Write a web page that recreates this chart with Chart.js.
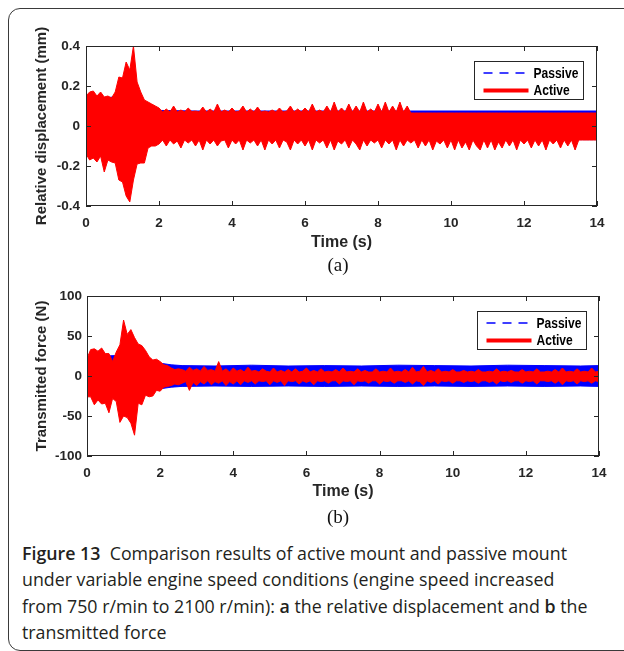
<!DOCTYPE html>
<html>
<head>
<meta charset="utf-8">
<script src="https://cdn.jsdelivr.net/npm/chart.js@4.4.1/dist/chart.umd.min.js"></script>
<style>
  html, body { margin: 0; padding: 0; background: #fff; width: 624px; height: 651px; overflow: hidden; }
  .frame { position: absolute; left: 8px; top: 8px; width: 700px; height: 643px; box-sizing: border-box;
           border: 1px solid #3a3a3a; border-radius: 12px; }
  canvas { position: absolute; left: 0; }
  #dispCanvas { top: 20px; }
  #forceCanvas { top: 280px; }
  .sub { position: absolute; left: 308px; width: 60px; text-align: center; line-height: 20px;
         font-family: "Liberation Serif", "Times New Roman", serif; font-size: 19px; color: #111; }
  .caption { position: absolute; left: 22px; top: 540px; font-family: "Open Sans", "Noto Sans", sans-serif;
             font-size: 17px; line-height: 26.3px; color: #231f20; white-space: nowrap; }
  .caption b { font-weight: 600; }
</style>
</head>
<body>
<div class="frame"></div>
<canvas id="dispCanvas" width="624" height="240"></canvas>
<canvas id="forceCanvas" width="624" height="230"></canvas>
<div class="sub" style="top:255px">(a)</div>
<div class="sub" style="top:507px">(b)</div>
<div class="caption" id="caption"><span id="capLine1"><b>Figure 13</b>&nbsp; Comparison results of active mount and passive mount</span><br>under variable engine speed conditions (engine speed increased<br>from 750 r/min to 2100 r/min): <b>a</b> the relative displacement and <b>b</b> the<br>transmitted force</div>

<script>
// sample grid for the envelopes, 0..14 s every 0.1 s
const time = Array.from({ length: 141 }, (_, i) => i / 10);
const timeTicks = [0, 2, 4, 6, 8, 10, 12, 14];
const legendNames = ['Passive', 'Active'];

// (a) relative displacement (mm), envelope of the active trace
const dispActiveUpper = [
  0.15, 0.17, 0.175, 0.15, 0.17, 0.145, 0.15, 0.14, 0.17, 0.245,
  0.24, 0.32, 0.28, 0.40, 0.22, 0.17, 0.13, 0.12, 0.11, 0.10,
  0.09,
  0.07, 0.085, 0.07, 0.1, 0.07, 0.08, 0.07, 0.09, 0.072, 0.075,
  0.07, 0.095, 0.07, 0.085, 0.07, 0.11, 0.07, 0.08, 0.07, 0.09,
  0.07, 0.075, 0.1, 0.07, 0.085, 0.07, 0.095, 0.07, 0.075, 0.07,
  0.08, 0.07, 0.09, 0.07, 0.075, 0.1, 0.07, 0.085, 0.07, 0.09,
  0.07, 0.11, 0.07, 0.08, 0.07, 0.1, 0.07, 0.12, 0.07, 0.09,
  0.07, 0.11, 0.07, 0.1, 0.07, 0.12, 0.07, 0.085, 0.07, 0.11,
  0.07, 0.12, 0.07, 0.1, 0.07, 0.12, 0.07, 0.1,
  0.065, 0.065, 0.065, 0.065, 0.065, 0.065, 0.065, 0.065, 0.065, 0.065,
  0.065, 0.065, 0.065, 0.065, 0.065, 0.065, 0.065, 0.065, 0.065, 0.065,
  0.065, 0.065, 0.065, 0.065, 0.065, 0.065, 0.065, 0.065, 0.065, 0.065,
  0.065, 0.065, 0.065, 0.065, 0.065, 0.065, 0.065, 0.065, 0.065, 0.065,
  0.065, 0.065, 0.065, 0.065, 0.065, 0.065, 0.065, 0.065, 0.065, 0.065,
  0.065, 0.065
];
const dispActiveLower = [
  -0.14, -0.17, -0.16, -0.18, -0.15, -0.23, -0.17, -0.18, -0.185, -0.27,
  -0.28, -0.35, -0.38, -0.27, -0.19, -0.185, -0.185, -0.11, -0.10, -0.10,
  -0.09,
  -0.07, -0.1, -0.07, -0.09, -0.075, -0.11, -0.07, -0.085, -0.07, -0.1,
  -0.07, -0.12, -0.07, -0.09, -0.07, -0.1, -0.075, -0.07, -0.11, -0.07,
  -0.09, -0.07, -0.12, -0.07, -0.085, -0.07, -0.1, -0.07, -0.12, -0.07,
  -0.09, -0.07, -0.11, -0.07, -0.08, -0.12, -0.07, -0.09, -0.07, -0.1,
  -0.07, -0.12, -0.07, -0.085, -0.07, -0.11, -0.07, -0.12, -0.075, -0.09,
  -0.07, -0.11, -0.07, -0.09, -0.12, -0.07, -0.1, -0.07, -0.085, -0.07,
  -0.11, -0.07, -0.09, -0.07, -0.12, -0.07, -0.1, -0.07, -0.085, -0.07,
  -0.11, -0.07, -0.1, -0.07, -0.12, -0.075, -0.09, -0.07, -0.11, -0.07,
  -0.12, -0.07, -0.11, -0.08, -0.12, -0.07, -0.1, -0.12, -0.07, -0.11,
  -0.07, -0.12, -0.08, -0.11, -0.07, -0.1, -0.07, -0.12, -0.07, -0.09,
  -0.07, -0.11, -0.07, -0.1, -0.07, -0.12, -0.07, -0.09, -0.07, -0.11,
  -0.07, -0.1, -0.07, -0.12,
  -0.07, -0.07, -0.07, -0.07, -0.07, -0.07
];
// passive trace envelope, mostly hidden under the active one
const dispPassiveTime = [0, 0.5, 1.0, 1.5, 1.7, 2.0, 3.0, 14.0];
const dispPassiveUpper = [0.13, 0.14, 0.15, 0.1, 0.085, 0.078, 0.075, 0.075];
const dispPassiveLower = [-0.13, -0.14, -0.15, -0.1, -0.08, -0.07, -0.068, -0.068];

// (b) transmitted force (N), envelope of the active trace
const forceActiveUpper = [
  22, 33, 34, 31, 35, 28, 28, 18, 30, 39,
  70, 52, 58, 48, 40, 38, 32, 24, 20, 21,
  18, 14, 13, 10, 8, 9,
  8, 6, 11, 7, 9, 6, 12, 7, 8, 6,
  18, 6, 9, 5, 10, 6, 8, 5, 11, 6,
  7, 5, 9, 6, 5, 10, 5, 7, 5, 8,
  5, 9, 5, 6, 10, 5, 7, 5, 9, 5,
  6, 5, 8, 5, 10, 5, 6, 5, 9, 5,
  7, 5, 5, 9, 5, 6, 5, 10, 5, 6,
  5, 8, 5, 11, 5, 6, 12, 5, 7, 5,
  9, 5, 6, 5, 8, 5, 5, 7, 5, 6,
  5, 8, 5, 5, 6, 5, 9, 5, 6, 5,
  7, 5, 5, 8, 5, 6, 5, 9, 5, 5,
  6, 5, 8, 5, 10, 5, 6, 5, 9, 5,
  6, 5, 10, 5, 6
];
const forceActiveLower = [
  -26, -26, -36, -30, -35, -34, -46, -28, -32, -58,
  -50, -52, -59, -74, -34, -36, -24, -26, -25, -18,
  -19, -14, -13, -12, -10, -11,
  -9, -7, -18, -8, -12, -7, -10, -6, -11, -7,
  -9, -6, -12, -7, -10, -6, -11, -6, -8, -6,
  -10, -6, -7, -6, -11, -6, -8, -6, -12, -6,
  -7, -6, -10, -6, -8, -6, -11, -6, -7, -6,
  -9, -6, -6, -10, -6, -7, -6, -11, -6, -7,
  -6, -9, -6, -6, -10, -6, -7, -6, -9, -6,
  -6, -8, -6, -10, -6, -7, -12, -6, -8, -6,
  -10, -6, -7, -6, -9, -6, -6, -8, -6, -7,
  -6, -9, -6, -6, -8, -6, -10, -6, -7, -6,
  -8, -6, -6, -9, -6, -7, -6, -10, -6, -6,
  -7, -6, -9, -6, -11, -6, -7, -6, -10, -6,
  -7, -6, -9, -6, -7
];
const forcePassiveTime = [0, 0.5, 1.0, 1.5, 2.0, 2.3, 2.6, 3.5, 4.5, 5.5, 6.5, 7.5, 8.5, 9.5, 10.5, 11.5, 12.5, 13.5, 14.0];
const forcePassiveUpper = [24, 25, 26, 22, 16, 14, 13, 12.5, 13.5, 12.5, 13, 12.5, 13.5, 13, 12.5, 13.5, 13, 12.5, 13];
const forcePassiveLower = [-24, -25, -26, -22, -16, -14, -13, -12.5, -13, -12.5, -13, -12.5, -13, -12.5, -13, -12.5, -13, -12.5, -13];

const RED = '#ff0000';
const BLUE = '#0000ff';
const INK = '#262626';
const AXIS_FONT = '"Liberation Sans", Arial, sans-serif';

function toXY(xs, ys) {
  return ys.map((y, i) => ({ x: xs[i], y: y }));
}

// MATLAB-like box with inward ticks on all four sides, plus the boxed legend
const matlabFrame = {
  id: 'matlabFrame',
  afterDatasetsDraw(chart) {
    const { ctx, chartArea: a, scales: { x, y } } = chart;
    const len = 5;
    ctx.save();
    ctx.strokeStyle = INK;
    ctx.lineWidth = 1;
    ctx.beginPath();
    x.ticks.forEach(t => {
      const px = Math.round(x.getPixelForValue(t.value)) + 0.5;
      ctx.moveTo(px, a.bottom); ctx.lineTo(px, a.bottom - len);
      ctx.moveTo(px, a.top); ctx.lineTo(px, a.top + len);
    });
    y.ticks.forEach(t => {
      const py = Math.round(y.getPixelForValue(t.value)) + 0.5;
      ctx.moveTo(a.left, py); ctx.lineTo(a.left + len, py);
      ctx.moveTo(a.right, py); ctx.lineTo(a.right - len, py);
    });
    ctx.stroke();
    ctx.strokeRect(a.left + 0.5, a.top + 0.5, a.right - a.left - 1, a.bottom - a.top - 1);
    ctx.restore();
  },
  afterDraw(chart) {
    const o = chart.options.plugins.boxLegend;
    if (!o) return;
    const { ctx, chartArea: a } = chart;
    const left = Math.round(a.right - o.right - o.width) + 0.5;
    const top = Math.round(a.top + o.top) + 0.5;
    ctx.save();
    ctx.fillStyle = '#fff';
    ctx.fillRect(left, top, o.width, o.height);
    ctx.strokeStyle = INK;
    ctx.lineWidth = 1;
    ctx.strokeRect(left, top, o.width, o.height);
    ctx.font = 'bold 14px ' + AXIS_FONT;
    ctx.textBaseline = 'middle';
    o.items.forEach((it, i) => {
      const cy = top + 11.5 + i * 17.5;
      ctx.strokeStyle = it.color;
      ctx.lineWidth = it.width;
      ctx.setLineDash(it.dash);
      ctx.beginPath();
      ctx.moveTo(left + 9, cy);
      ctx.lineTo(left + 54, cy);
      ctx.stroke();
      ctx.setLineDash([]);
      ctx.fillStyle = '#000';
      const w = ctx.measureText(it.label).width;
      ctx.fillText(it.label, left + 59, cy + 1, w * 0.86);
    });
    ctx.restore();
  }
};

function makeChart(id, cfg) {
  const datasets = [
    { label: 'Active', data: toXY(time, cfg.activeUpper), borderColor: RED, backgroundColor: RED, fill: false },
    { label: 'Active', data: toXY(time, cfg.activeLower), borderColor: RED, backgroundColor: RED, fill: '-1' },
    { label: 'Passive', data: toXY(cfg.passiveTime, cfg.passiveUpper), borderColor: BLUE, backgroundColor: BLUE, fill: false },
    { label: 'Passive', data: toXY(cfg.passiveTime, cfg.passiveLower), borderColor: BLUE, backgroundColor: BLUE, fill: '-1' }
  ];
  return new Chart(document.getElementById(id), {
    type: 'line',
    data: { datasets: datasets },
    options: {
      responsive: false,
      animation: false,
      layout: { padding: { left: 0, top: cfg.padTop, right: cfg.padRight, bottom: 0 } },
      elements: {
        point: { radius: 0 },
        line: { borderWidth: 1, tension: 0 }
      },
      plugins: {
        legend: { display: false },
        tooltip: { enabled: false },
        boxLegend: {
          right: cfg.legendRight, top: 15, width: 109, height: 38,
          items: [
            { label: legendNames[0], color: BLUE, dash: [9, 7], width: 1.5 },
            { label: legendNames[1], color: RED, dash: [], width: 4 }
          ]
        }
      },
      scales: {
        x: {
          type: 'linear',
          min: 0, max: 14,
          afterBuildTicks: s => { s.ticks = timeTicks.map(v => ({ value: v })); },
          afterFit: s => { s.height = 54; },
          grid: { display: false, drawTicks: false },
          border: { display: false },
          ticks: { color: INK, padding: 9, maxRotation: 0, font: { family: AXIS_FONT, size: 13.5, weight: 'bold' } },
          title: {
            display: true, text: 'Time (s)', color: INK,
            padding: { top: 0, bottom: cfg.xTitlePad },
            font: { family: AXIS_FONT, size: 16, weight: 'bold' }
          }
        },
        y: {
          min: cfg.yMin, max: cfg.yMax,
          afterBuildTicks: s => { s.ticks = cfg.yTicks.map(v => ({ value: v })); },
          afterFit: s => { s.width = cfg.yWidth; },
          grid: { display: false, drawTicks: false },
          border: { display: false },
          ticks: { color: INK, padding: cfg.yTickPad, callback: v => String(v),
                   font: { family: AXIS_FONT, size: 13.5, weight: 'bold' } },
          title: {
            display: true, text: cfg.yTitle, color: INK,
            padding: { top: cfg.yTitlePad, bottom: 0 },
            font: { family: AXIS_FONT, size: cfg.yTitleSize, weight: 'bold' }
          }
        }
      }
    },
    plugins: [matlabFrame]
  });
}

makeChart('dispCanvas', {
  activeUpper: dispActiveUpper, activeLower: dispActiveLower,
  passiveTime: dispPassiveTime, passiveUpper: dispPassiveUpper, passiveLower: dispPassiveLower,
  yMin: -0.4, yMax: 0.4, yTicks: [-0.4, -0.2, 0, 0.2, 0.4],
  yTitle: 'Relative displacement (mm)', yTitleSize: 15, yTitlePad: 33,
  yWidth: 86, yTickPad: 6, padTop: 26, padRight: 27, legendRight: 14, xTitlePad: 7.4
});

makeChart('forceCanvas', {
  activeUpper: forceActiveUpper, activeLower: forceActiveLower,
  passiveTime: forcePassiveTime, passiveUpper: forcePassiveUpper, passiveLower: forcePassiveLower,
  yMin: -100, yMax: 100, yTicks: [-100, -50, 0, 50, 100],
  yTitle: 'Transmitted force (N)', yTitleSize: 15, yTitlePad: 33,
  yWidth: 87, yTickPad: 5, padTop: 16, padRight: 25, legendRight: 13, xTitlePad: 8.4
});

// size the caption so its first line spans the same width as in the figure
function fitCaption() {
  const cap = document.getElementById('caption');
  const w = document.getElementById('capLine1').getBoundingClientRect().width;
  if (w > 0) {
    const size = parseFloat(getComputedStyle(cap).fontSize);
    cap.style.fontSize = (size * 545 / w).toFixed(2) + 'px';
  }
}
fitCaption();
if (document.fonts) document.fonts.ready.then(fitCaption);
</script>
</body>
</html>
